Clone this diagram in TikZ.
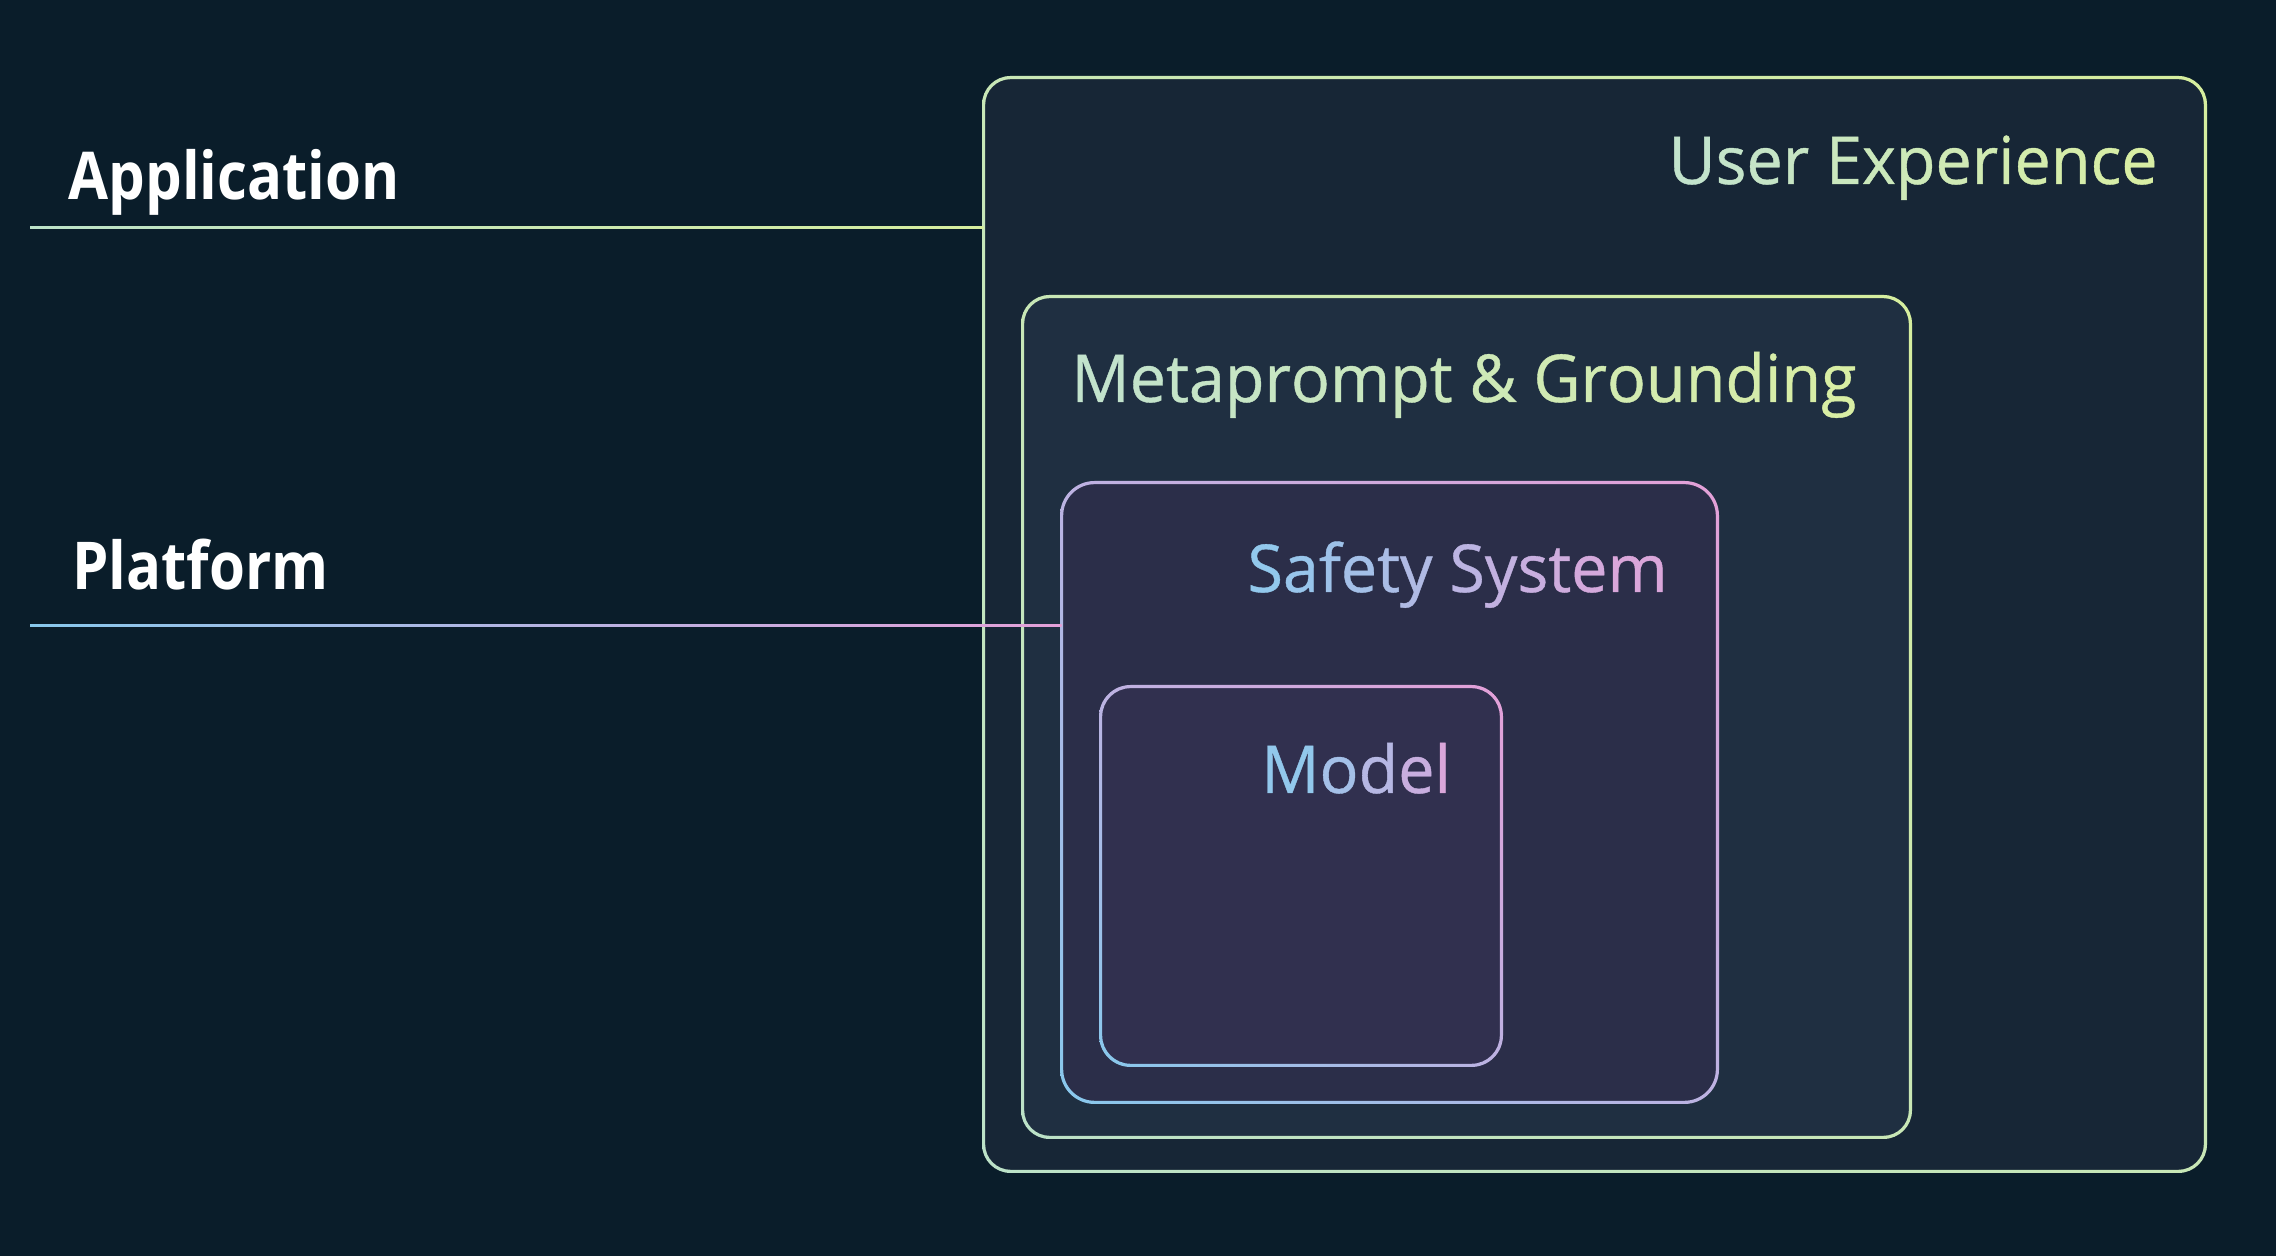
\documentclass[tikz,border=0pt]{standalone}
\usepackage{fontspec}
\setmainfont{Open Sans}
\newfontfamily\layerfont{Open Sans}[FakeStretch=0.98, FakeBold=0.6]
\newfontfamily\sidefont{Open Sans}[BoldFeatures={FakeStretch=0.88}]
\usetikzlibrary{shadings}

\newcommand{\layertext}{\layerfont\fontsize{33}{40}\selectfont}
\newcommand{\sidetext}{\sidefont\bfseries\fontsize{33}{40}\selectfont}

\definecolor{bgnavy}{HTML}{0A1D2A}
\definecolor{uxfill}{HTML}{172636}
\definecolor{mgfill}{HTML}{1F2F41}
\definecolor{ssfill}{HTML}{2B2E49}
\definecolor{mdfill}{HTML}{31304F}
\definecolor{greenA}{HTML}{BCE2C8}
\definecolor{greenB}{HTML}{D6EE9E}
\definecolor{greenC}{HTML}{C8E7B6}
\definecolor{blueA}{HTML}{88C8EC}
\definecolor{pinkB}{HTML}{E4A0D8}
\definecolor{lilacC}{HTML}{BDB2E2}
\definecolor{mintT}{HTML}{C2E3CC}
\definecolor{limeT}{HTML}{D8EEA4}
\definecolor{blueT}{HTML}{92C8EC}
\definecolor{pinkT}{HTML}{DAA6DA}

% texte en degrade, lettre par lettre
\ExplSyntaxOn
\NewDocumentCommand{\gradtext}{mmm}{
  \int_set:Nn \l_tmpa_int { \str_count:n {#3} - 1 }
  \int_zero:N \l_tmpb_int
  \str_map_inline:nn {#3} {
    \str_if_eq:nnTF {##1} {~}
      { ~ }
      {
        \tl_set:Nx \l_tmpa_tl { #1 ! \fp_eval:n { round(100 - 100 * \l_tmpb_int / max(\l_tmpa_int,1), 0) } ! #2 }
        \exp_args:NV \textcolor \l_tmpa_tl {##1}
      }
    \int_incr:N \l_tmpb_int
  }
}
\ExplSyntaxOff

% anneau en degrade autour d'une boite
\newcommand{\layerring}[3]{%
  \shade[even odd rule, #3]
    [rounded corners=#2+0.8pt] ([shift={(-0.8pt,-0.8pt)}]#1.south west) rectangle ([shift={(0.8pt,0.8pt)}]#1.north east)
    [rounded corners=#2-0.8pt] ([shift={(0.8pt,0.8pt)}]#1.south west) rectangle ([shift={(-0.8pt,-0.8pt)}]#1.north east);
}

\tikzset{
  layerbox/.style={rectangle, inner sep=0pt, draw=none},
  layerlabel/.style={font=\layertext, inner sep=0pt},
  sidelabel/.style={font=\sidetext, text=white, inner sep=0pt, anchor=base west},
  greenring/.style={lower left=greenA, upper right=greenB, upper left=greenC, lower right=greenC},
  pinkring/.style={lower left=blueA, upper right=pinkB, upper left=lilacC, lower right=lilacC}
}

\begin{document}
\begin{tikzpicture}[x=0.5pt, y=0.5pt]
	% Fond
	\fill[bgnavy] (0,0) rectangle (2276,1256);
	\useasboundingbox (0,0) rectangle (2276,1256);

	% Boites
	\node[layerbox, fill=uxfill, rounded corners=13.5pt, minimum width=610.5pt, minimum height=546.5pt] (ux) at (1594.5,631.5) {};
	\node[layerbox, fill=mgfill, rounded corners=13.5pt, minimum width=443.5pt, minimum height=420pt] (mg) at (1466.5,539) {};
	\node[layerbox, fill=ssfill, rounded corners=16.5pt, minimum width=327.5pt, minimum height=309.5pt] (ss) at (1389.5,463.5) {};
	\node[layerbox, fill=mdfill, rounded corners=15pt, minimum width=200pt, minimum height=189pt] (md) at (1301,380) {};

	\layerring{ux}{13.5pt}{greenring}
	\layerring{mg}{13.5pt}{greenring}
	\layerring{ss}{16.5pt}{pinkring}
	\layerring{md}{15pt}{pinkring}

	% Titres des boites
	\node[layerlabel, anchor=base east] (uxlabel) at (2158,1072) {\gradtext{mintT}{limeT}{User Experience}};
	\node[layerlabel, anchor=base west] (mglabel) at (1071,854) {\gradtext{mintT}{limeT}{Metaprompt & Grounding}};
	\node[layerlabel, anchor=base east] (sslabel) at (1668,664) {\gradtext{blueT}{pinkT}{Safety System}};
	\node[layerlabel, anchor=base] (mdlabel) at (1356,463) {\gradtext{blueT}{pinkT}{Model}};

	% Niveaux a gauche
	\node[sidelabel] (app) at (68,1056) {Application};
	\node[sidelabel] (plat) at (72,666) {Platform};

	\coordinate (appstart) at (30,1028);
	\coordinate (append) at (appstart -| ux.west);
	\shade[left color=greenA, right color=greenB] ([yshift=-0.5pt]appstart) rectangle ([yshift=0.5pt]append);
	\coordinate (platstart) at (30,630);
	\coordinate (platend) at (platstart -| ss.west);
	\shade[left color=blueA, right color=pinkB] ([yshift=-0.5pt]platstart) rectangle ([yshift=0.5pt]platend);
\end{tikzpicture}
\end{document}
